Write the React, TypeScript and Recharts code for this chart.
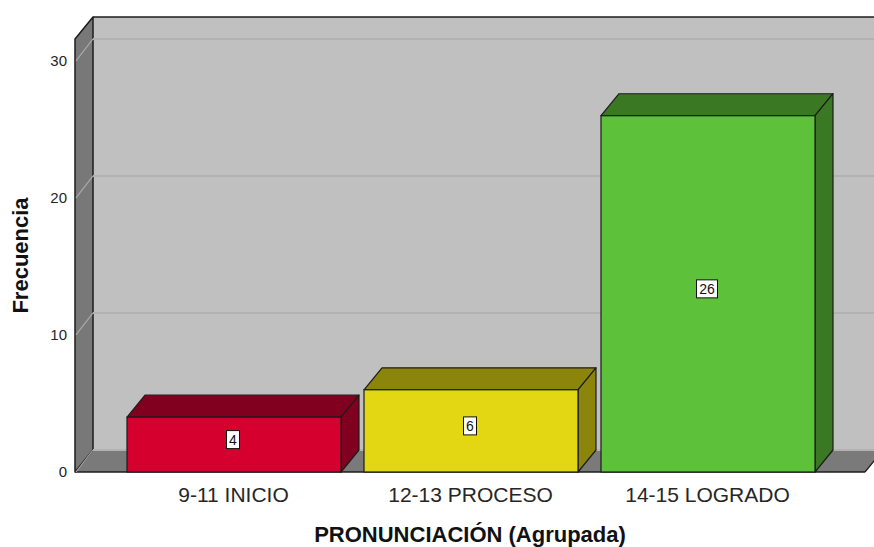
import React from 'react'
import {
  BarChart,
  Bar,
  XAxis,
  YAxis,
  ReferenceArea,
  ReferenceLine,
  LabelList,
  Label,
} from 'recharts'

const categories = ['9-11 INICIO', '12-13 PROCESO', '14-15 LOGRADO']
const frecuencias = [4, 6, 26]
const yTicks = [0, 10, 20, 30]
const yMax = 31.6

const FRONT = ['#d6002f', '#e3d713', '#5dc23a']
const SHADE = ['#82001f', '#8c850b', '#3b7824']
const EDGE = '#1c1c1c'
const DX = 18
const DY = -22
const PAD_L = 40
const PAD_R = 39
const FONT = '"Liberation Sans", Arial, sans-serif'

const data = categories.map((c, i) => ({ name: c, value: frecuencias[i] }))

// the area spans the category range only, so widen it by the axis padding
function Walls(props: any) {
  const x = props.x - PAD_L
  const w = props.width + PAD_L + PAD_R
  const { y, height: h } = props
  const b = y + h
  return (
    <g>
      <rect x={x + DX} y={y + DY} width={w} height={h} fill="#c0c0c0" />
      <polygon
        points={`${x},${b} ${x + DX},${b + DY} ${x + w + DX},${b + DY} ${x + w},${b}`}
        fill="#7a7a7a"
      />
      <line x1={x} y1={b} x2={x + w} y2={b} stroke={EDGE} strokeWidth={1.5} />
      <line x1={x + w} y1={b} x2={x + w + DX} y2={b + DY} stroke={EDGE} strokeWidth={1.2} />
      <polygon
        points={`${x},${y} ${x + DX},${y + DY} ${x + DX},${b + DY} ${x},${b}`}
        fill="#787878"
        stroke={EDGE}
        strokeWidth={1.5}
        strokeLinejoin="round"
      />
      <line x1={x + DX} y1={y + DY} x2={x + w + DX} y2={y + DY} stroke={EDGE} strokeWidth={1.5} />
    </g>
  )
}

function GridLine(props: any) {
  const { x1, y1, x2, y2 } = props
  if (x1 == null || y1 == null) return null
  return (
    <g>
      <line x1={x1 + DX} y1={y1 + DY} x2={x2 + DX} y2={y2 + DY} stroke="#b2b2b2" strokeWidth={2} />
      <line x1={x1 + 1} y1={y1} x2={x1 + DX} y2={y1 + DY} stroke="#a8a8a8" strokeWidth={1.2} />
    </g>
  )
}

function Bar3D(props: any) {
  const { x, y, width: w, height: h, index } = props
  const front = FRONT[index % FRONT.length]
  const shade = SHADE[index % SHADE.length]
  return (
    <g>
      <polygon
        points={`${x},${y} ${x + DX},${y + DY} ${x + w + DX},${y + DY} ${x + w},${y}`}
        fill={shade}
        stroke={EDGE}
        strokeWidth={1.2}
        strokeLinejoin="round"
      />
      <polygon
        points={`${x + w},${y} ${x + w + DX},${y + DY} ${x + w + DX},${y + h + DY} ${x + w},${y + h}`}
        fill={shade}
        stroke={EDGE}
        strokeWidth={1.2}
        strokeLinejoin="round"
      />
      <rect x={x} y={y} width={w} height={h} fill={front} stroke={EDGE} strokeWidth={1.2} />
    </g>
  )
}

function ValueBox(props: any) {
  const { x, y, width, height, value } = props
  const cx = x + width / 2 - 1
  const cy = y + height / 2 - 5
  const s = String(value)
  const bw = s.length * 8 + 5
  return (
    <g>
      <rect x={cx - bw / 2} y={cy - 9} width={bw} height={18} fill="#fff" stroke="#111" strokeWidth={1} />
      <text x={cx} y={cy + 5} textAnchor="middle" fontSize={14} fontFamily={FONT} fill="#111">
        {s}
      </text>
    </g>
  )
}

function XTitle(props: any) {
  const vb = props.viewBox || {}
  return (
    <text
      x={vb.x + vb.width / 2}
      y={vb.y + vb.height + 40}
      textAnchor="middle"
      fontSize={22}
      fontWeight="bold"
      fontFamily={FONT}
      fill="#111"
    >
      PRONUNCIACIÓN (Agrupada)
    </text>
  )
}

function YTitle(props: any) {
  const vb = props.viewBox || {}
  const cx = 28
  const cy = vb.y + vb.height / 2
  return (
    <text
      x={cx}
      y={cy}
      transform={`rotate(-90 ${cx} ${cy})`}
      textAnchor="middle"
      fontSize={22}
      fontWeight="bold"
      fontFamily={FONT}
      fill="#111"
    >
      Frecuencia
    </text>
  )
}

export default function App() {
  return (
    <div style={{ position: 'absolute', left: 0, top: 0, width: 874, height: 547, background: '#fff' }}>
      <BarChart
        width={874}
        height={547}
        data={data}
        margin={{ top: 39, right: 9, bottom: 45, left: 0 }}
        barSize={214}
      >
        <XAxis
          dataKey="name"
          padding={{ left: PAD_L, right: PAD_R }}
          axisLine={false}
          tickLine={false}
          height={30}
          tickMargin={9}
          interval={0}
          tick={{ fontSize: 21, fill: '#262626', fontFamily: FONT }}
        >
          <Label content={XTitle} />
        </XAxis>
        <YAxis
          domain={[0, yMax]}
          ticks={yTicks}
          width={75}
          axisLine={false}
          tickLine={false}
          tick={{ fontSize: 15, fill: '#262626', fontFamily: FONT }}
        >
          <Label content={YTitle} />
        </YAxis>
        <ReferenceArea y1={0} y2={yMax} ifOverflow="visible" shape={Walls} zIndex={-60} />
        {yTicks.map((t) => (
          <ReferenceLine key={t} y={t} shape={GridLine} ifOverflow="visible" zIndex={-55} />
        ))}
        <Bar dataKey="value" shape={Bar3D} isAnimationActive={false}>
          <LabelList dataKey="value" content={ValueBox} />
        </Bar>
      </BarChart>
    </div>
  )
}
